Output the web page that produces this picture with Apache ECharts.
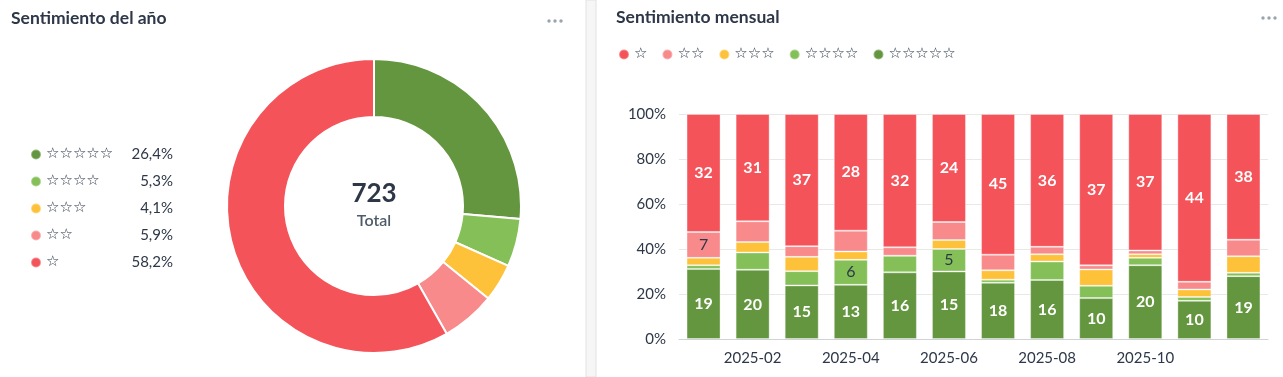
<!DOCTYPE html>
<html>
<head>
<meta charset="utf-8">
<title>Sentimiento</title>
<script src="https://cdn.jsdelivr.net/npm/echarts@6/dist/echarts.min.js"></script>
<style>
  html, body { margin: 0; padding: 0; background: #fff; }
  #chart { width: 1283px; height: 377px; }
</style>
</head>
<body>
<div id="chart"></div>
<script>
// data
const months = ["2025-01", "2025-02", "2025-03", "2025-04", "2025-05", "2025-06",
  "2025-07", "2025-08", "2025-09", "2025-10", "2025-11", "2025-12"]
const starNames = ["☆", "☆☆", "☆☆☆", "☆☆☆☆", "☆☆☆☆☆"]
const oneStar = [32, 31, 37, 28, 32, 24, 45, 36, 37, 37, 44, 38]
const twoStars = [7, 6, 3, 5, 2, 4, 5, 2, 1, 1, 2, 5]
const threeStars = [2, 3, 4, 2, 0, 2, 3, 2, 4, 1, 2, 5]
const fourStars = [1, 5, 4, 6, 4, 5, 1, 5, 3, 2, 1, 1]
const fiveStars = [19, 20, 15, 13, 16, 15, 18, 16, 10, 20, 10, 19]
const yTicks = [0, 20, 40, 60, 80, 100]

const colors = ["#f4535a", "#f88a8b", "#fec13a", "#84c057", "#64963f"]
const textDark = "#2d3748"
const font = "Lato, 'Noto Sans', sans-serif"
const starFont = "'DejaVu Sans', sans-serif"

const counts = [oneStar, twoStars, threeStars, fourStars, fiveStars]
const monthTotals = months.map((m, i) => counts.reduce((s, arr) => s + arr[i], 0))
const yearTotals = counts.map(arr => arr.reduce((s, v) => s + v, 0))
const grandTotal = yearTotals.reduce((s, v) => s + v, 0)

const pctText = name => {
  const k = starNames.indexOf(name)
  return (yearTotals[k] / grandTotal * 100).toFixed(1).replace(".", ",") + "%"
}

// bar series, bottom (5 stars) to top (1 star)
const barSeries = [4, 3, 2, 1, 0].map(k => {
  const light = k === 0 || k === 4
  return {
    name: starNames[k],
    type: "bar",
    stack: "total",
    barWidth: 34,
    data: counts[k].map((v, i) => v / monthTotals[i] * 100),
    itemStyle: { color: colors[k], borderColor: "rgba(255,255,255,0.35)", borderWidth: 1 },
    label: {
      show: true,
      position: "inside",
      fontFamily: font,
      fontSize: 16,
      fontWeight: light ? "bold" : "normal",
      color: light ? "#fff" : textDark,
      formatter: p => {
        const v = counts[k][p.dataIndex]
        return v / monthTotals[p.dataIndex] >= 0.1 ? String(v) : ""
      },
    },
    emphasis: { disabled: true },
  }
})

const chart = echarts.init(document.getElementById("chart"))
const option = {
  animation: false,
  textStyle: { fontFamily: font },
  grid: { left: 679, right: 15, top: 114, bottom: 38 },
  legend: [
    {
      orient: "vertical",
      left: 25,
      top: 142,
      itemWidth: 10,
      itemHeight: 10,
      itemGap: 12,
      icon: "circle",
      data: [4, 3, 2, 1, 0].map(k => starNames[k]),
      selectedMode: false,
      formatter: name => "{n|" + name + "}{p|" + pctText(name) + "}",
      textStyle: {
        color: textDark,
        rich: {
          n: { width: 84, fontSize: 15, lineHeight: 18, color: textDark, fontFamily: starFont },
          p: { width: 43, align: "right", fontSize: 15, lineHeight: 18, color: textDark, fontFamily: font },
        },
      },
    },
    {
      left: 613,
      top: 42,
      itemWidth: 10,
      itemHeight: 10,
      itemGap: 14,
      icon: "circle",
      data: starNames,
      selectedMode: false,
      textStyle: { color: textDark, fontSize: 15, fontFamily: starFont },
    },
  ],
  xAxis: {
    type: "category",
    data: months,
    axisTick: { show: false },
    axisLine: { lineStyle: { color: "#cfd3d6" } },
    axisLabel: {
      color: textDark,
      fontSize: 15,
      margin: 12,
      interval: i => i % 2 === 1 && i < 11,
    },
  },
  yAxis: {
    type: "value",
    min: yTicks[0],
    max: yTicks[yTicks.length - 1],
    interval: 20,
    axisLabel: { color: textDark, fontSize: 15, margin: 13, formatter: "{value}%" },
    splitLine: { lineStyle: { color: "#e8e8e8" } },
  },
  series: [
    {
      name: "año",
      type: "pie",
      center: [374, 206],
      radius: [89, 147],
      startAngle: 90,
      label: { show: false },
      labelLine: { show: false },
      emphasis: { disabled: true },
      itemStyle: { borderColor: "#fff", borderWidth: 2 },
      data: [4, 3, 2, 1, 0].map(k => ({
        name: starNames[k],
        value: yearTotals[k],
        itemStyle: { color: colors[k] },
      })),
    },
    ...barSeries,
  ],
  graphic: [
    { type: "rect", shape: { x: 586, y: 0, width: 10, height: 377 },
      style: { fill: "#f6f6f6", stroke: "#e2e2e2", lineWidth: 1 } },
    { type: "text", left: 11, top: 9,
      style: { text: "Sentimiento del año", font: "bold 17.5px " + font, fill: textDark } },
    { type: "text", left: 616, top: 8,
      style: { text: "Sentimiento mensual", font: "bold 17.5px " + font, fill: textDark } },
    { type: "text", x: 374, y: 194,
      style: { text: String(grandTotal), font: "bold 26px " + font, fill: textDark,
        align: "center", verticalAlign: "middle" } },
    { type: "text", x: 374, y: 221,
      style: { text: "Total", font: "600 16px " + font, fill: "#4f5b6b",
        align: "center", verticalAlign: "middle" } },
    ...[549, 555, 561, 1263, 1269, 1275].map((x, i) => ({
      type: "circle",
      shape: { cx: x, cy: i < 3 ? 21 : 18, r: 1.7 },
      style: { fill: "#9aa4ab" },
    })),
  ],
}
chart.setOption(option)
</script>
</body>
</html>
